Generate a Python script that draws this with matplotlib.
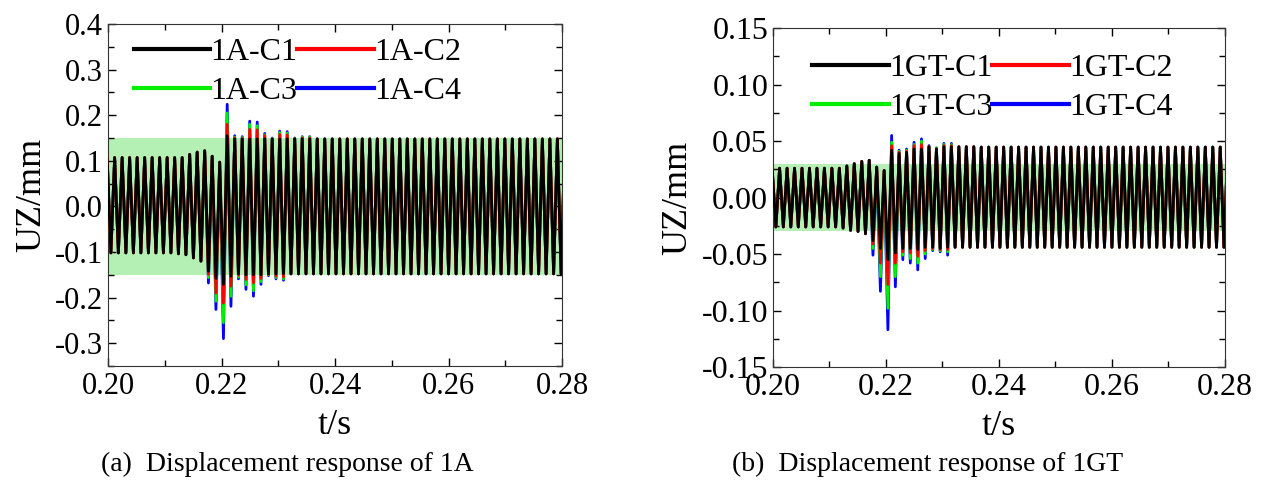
import matplotlib
matplotlib.use("agg")
import matplotlib.pyplot as plt
from matplotlib.ticker import MultipleLocator, FormatStrFormatter
import numpy as np

plt.rcParams['font.family'] = ['Liberation Serif', 'DejaVu Serif']
plt.rcParams['axes.unicode_minus'] = False

# extrema of the vibration, peak / trough alternately, around the impact at t_jump
t_jump = 0.2210
half_T = 0.000661
m_idx = np.arange(-32, 91)

# ---- (a) 1A ----
a_peak_pre = [0.107] * 11 + [0.114, 0.119, 0.122, 0.110, 0.097]
a_trough_pre = [-0.102] * 9 + [-0.104, -0.106, -0.113, -0.120]
a_peak_post = [0.148] * 34
a_trough_post = [-0.148] * 37
a_peak_win = {
    'C1': [0.155, 0.148, 0.148, 0.148, 0.148, 0.148, 0.148, 0.148, 0.148, 0.148, 0.148, 0.148],
    'C2': [0.180, 0.150, 0.149, 0.169, 0.168, 0.155, 0.148, 0.158, 0.157, 0.148, 0.150, 0.150],
    'C3': [0.205, 0.152, 0.151, 0.180, 0.177, 0.157, 0.149, 0.162, 0.161, 0.149, 0.152, 0.152],
    'C4': [0.224, 0.155, 0.153, 0.187, 0.185, 0.160, 0.150, 0.165, 0.164, 0.150, 0.153, 0.153],
}
a_trough_win = {
    'C1': [-0.142, -0.158, -0.171, -0.153, -0.148, -0.150, -0.150, -0.150, -0.148, -0.148, -0.148],
    'C2': [-0.149, -0.190, -0.212, -0.175, -0.151, -0.160, -0.168, -0.158, -0.149, -0.153, -0.155],
    'C3': [-0.156, -0.208, -0.255, -0.197, -0.155, -0.172, -0.185, -0.165, -0.150, -0.156, -0.159],
    'C4': [-0.168, -0.226, -0.290, -0.219, -0.159, -0.182, -0.197, -0.171, -0.152, -0.159, -0.162],
}
a_band = [-0.15, 0.15]

# ---- (b) 1GT ----
b_peak_pre = [0.026] * 10 + [0.028, 0.030, 0.032, 0.033, 0.027, 0.024]
b_trough_pre = [-0.026] * 9 + [-0.027, -0.029, -0.030, -0.032]
b_peak_post = [0.0447] * 34
b_trough_post = [-0.044] * 37
b_peak_win = {
    'C1': [0.042, 0.039, 0.040, 0.043, 0.043, 0.045, 0.043, 0.045, 0.045, 0.045, 0.045, 0.045],
    'C2': [0.046, 0.040, 0.041, 0.046, 0.047, 0.045, 0.043, 0.046, 0.046, 0.045, 0.045, 0.045],
    'C3': [0.049, 0.041, 0.042, 0.047, 0.050, 0.045, 0.044, 0.047, 0.047, 0.045, 0.045, 0.045],
    'C4': [0.055, 0.042, 0.043, 0.049, 0.052, 0.046, 0.044, 0.048, 0.048, 0.045, 0.045, 0.045],
}
b_trough_win = {
    'C1': [-0.038, -0.045, -0.055, -0.049, -0.045, -0.045, -0.046, -0.044, -0.044, -0.045, -0.044],
    'C2': [-0.041, -0.058, -0.077, -0.058, -0.048, -0.049, -0.052, -0.047, -0.045, -0.046, -0.046],
    'C3': [-0.045, -0.070, -0.098, -0.070, -0.051, -0.054, -0.058, -0.050, -0.046, -0.047, -0.048],
    'C4': [-0.051, -0.083, -0.117, -0.079, -0.055, -0.058, -0.064, -0.054, -0.047, -0.048, -0.051],
}
b_band = [-0.03, 0.03]

series = ['C1', 'C2', 'C3', 'C4']
colors = {'C1': 'black', 'C2': '#ff0000', 'C3': '#00ee00', 'C4': '#0000ff'}
t_range = [0.20, 0.28]


def build(peaks, troughs):
    y = []
    for m in m_idx:
        if m % 2 == 0:
            y.append(peaks[(m + 32) // 2])
        else:
            y.append(troughs[(m + 31) // 2])
    return np.array(y)


def draw(ax, prefix, pk_pre, pk_win, pk_post, tr_pre, tr_win, tr_post, band, fs):
    t = t_jump + m_idx * half_T
    ax.fill_between(t_range, band[0], band[1], color='#b4f0b4', lw=0, zorder=1)
    lines = {}
    for z, s in enumerate(reversed(series)):
        y = build(pk_pre + pk_win[s] + pk_post, tr_pre + tr_win[s] + tr_post)
        lines[s], = ax.plot(t, y, color=colors[s], lw=2.0, zorder=2 + z,
                            label=prefix + '-' + s, solid_joinstyle='round')
    ax.set_xlim(0.20, 0.28)
    ax.xaxis.set_major_locator(MultipleLocator(0.02))
    ax.xaxis.set_minor_locator(MultipleLocator(0.01))
    ax.xaxis.set_major_formatter(FormatStrFormatter('%.2f'))
    ax.tick_params(which='both', direction='in', top=True, right=True,
                   labelsize=fs, width=1)
    ax.tick_params(which='major', length=6)
    ax.tick_params(which='minor', length=4)
    ax.tick_params(axis='x', pad=4)
    for sp in ax.spines.values():
        sp.set_color('#333333')
    ax.set_xlabel('t/s', fontsize=26, labelpad=6)
    ax.set_ylabel('UZ/mm', fontsize=26, labelpad=5)
    # legend rows: C1 C2 / C3 C4
    return [lines['C1'], lines['C3'], lines['C2'], lines['C4']]


fig = plt.figure(figsize=(12.72, 4.82), dpi=100)
ax1 = fig.add_axes([0.0849, 0.2407, 0.357, 0.7095])
ax2 = fig.add_axes([0.6077, 0.2386, 0.3553, 0.703])

h1 = draw(ax1, '1A', a_peak_pre, a_peak_win, a_peak_post,
          a_trough_pre, a_trough_win, a_trough_post, a_band, 22)
ax1.set_ylim(-0.35, 0.4)
ax1.yaxis.set_major_locator(MultipleLocator(0.1))
ax1.yaxis.set_minor_locator(MultipleLocator(0.05))
ax1.yaxis.set_major_formatter(FormatStrFormatter('%.1f'))
leg1 = ax1.legend(handles=h1, ncol=2, loc='upper left', bbox_to_anchor=(0.0, 1.035),
                  frameon=False, fontsize=23, handlelength=2.4, handletextpad=0.0,
                  columnspacing=0.0, labelspacing=0.3, borderpad=0.3)
for ln in leg1.get_lines():
    ln.set_linewidth(3)

h2 = draw(ax2, '1GT', b_peak_pre, b_peak_win, b_peak_post,
          b_trough_pre, b_trough_win, b_trough_post, b_band, 23)
ax2.set_ylim(-0.15, 0.15)
ax2.yaxis.set_major_locator(MultipleLocator(0.05))
ax2.yaxis.set_minor_locator(MultipleLocator(0.025))
ax2.yaxis.set_major_formatter(FormatStrFormatter('%.2f'))
leg2 = ax2.legend(handles=h2, ncol=2, loc='upper left', bbox_to_anchor=(0.03, 1.0),
                  frameon=False, fontsize=23, handlelength=2.4, handletextpad=0.0,
                  columnspacing=0.0, labelspacing=0.3, borderpad=0.3)
for ln in leg2.get_lines():
    ln.set_linewidth(3)

fig.text(0.226, 0.022, '(a)  Displacement response of 1A', fontsize=20, ha='center')
fig.text(0.729, 0.022, '(b)  Displacement response of 1GT', fontsize=20, ha='center')

fig.savefig('out.png', dpi=100)
plt.close(fig)
